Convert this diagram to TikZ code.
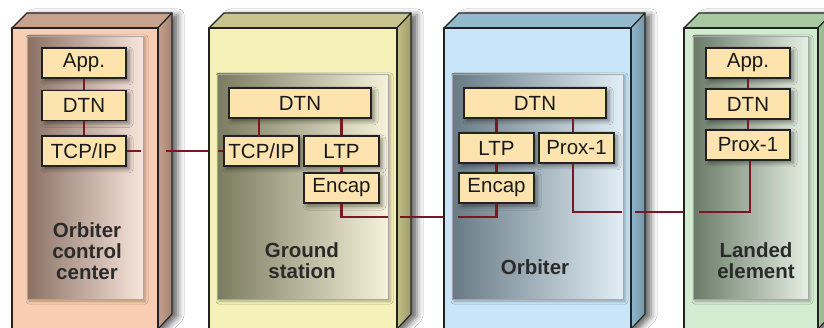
\documentclass[tikz,border=0pt]{standalone}
\usepackage{fontspec}
\setmainfont{Liberation Sans}
\usetikzlibrary{shadows.blur}

\definecolor{wire}{HTML}{7B1624}
\definecolor{layerfill}{HTML}{FDE3AE}
\definecolor{edge}{HTML}{222222}
\definecolor{labeltext}{HTML}{2A2A2A}
% cabinet colours: front, top, side
\definecolor{occFront}{HTML}{F8CDB1}\definecolor{occTop}{HTML}{C9A28D}\definecolor{occSide}{HTML}{C7A08D}
\definecolor{gsFront}{HTML}{F5F1B8}\definecolor{gsTop}{HTML}{C8C48D}\definecolor{gsSide}{HTML}{C2BE84}
\definecolor{obFront}{HTML}{C8E6F7}\definecolor{obTop}{HTML}{93B9CC}\definecolor{obSide}{HTML}{8FB6CA}
\definecolor{leFront}{HTML}{D3EBD0}\definecolor{leTop}{HTML}{A9C9A2}\definecolor{leSide}{HTML}{A3C49B}
% inner panel gradients
\definecolor{occDark}{HTML}{8B7165}\definecolor{occLight}{HTML}{F7E5DB}
\definecolor{gsDark}{HTML}{7B7B60}\definecolor{gsLight}{HTML}{F5F2D9}
\definecolor{obDark}{HTML}{687A84}\definecolor{obLight}{HTML}{E1EEF6}
\definecolor{leDark}{HTML}{6A7A68}\definecolor{leLight}{HTML}{E5EFE3}

\tikzset{
  cabedge/.style={draw=edge, line width=1.1pt, line join=round},
  cabshadow/.style={blur shadow={shadow xshift=6pt, shadow yshift=-2pt,
      shadow blur radius=6pt, shadow opacity=60}},
  panel/.style={draw=black!35, line width=0.8pt,
      blur shadow={shadow xshift=2pt, shadow yshift=-2pt,
      shadow blur radius=3pt, shadow opacity=30}},
  layerbox/.style={draw=edge, fill=layerfill, line width=1.6pt,
      minimum height=30pt, inner sep=0pt, text=black!90,
      font=\fontsize{20.5}{22}\selectfont,
      blur shadow={shadow xshift=3pt, shadow yshift=-3pt,
      shadow blur radius=4pt, shadow opacity=45}},
  sitelabel/.style={align=center, text=labeltext,
      font=\bfseries\fontsize{20.5}{21}\selectfont},
  link/.style={draw=wire, line width=2.4pt},
}

% one 3-D cabinet: front left x, front right x, front, top and side colours
\newcommand\cabinet[5]{%
  \fill[cabshadow, white] (#1,28) -- ({#1+15},13) -- ({#2+14},13) -- ({#2+14},314)
      -- (#2,329) -- (#1,329) -- cycle;
  \filldraw[cabedge, fill=#4] (#1,28) -- ({#1+15},13) -- ({#2+14},13) -- (#2,28) -- cycle;
  \draw[cabedge, left color=#5, right color=#5!82!black]
      (#2,28) -- ({#2+14},13) -- ({#2+14},314) -- (#2,329) -- cycle;
  \filldraw[cabedge, fill=#3] (#1,28) rectangle (#2,334);
}

\begin{document}
\begin{tikzpicture}[x=1pt, y=-1pt]
\useasboundingbox (0,0) rectangle (824,328);
\fill[white] (0,0) rectangle (824,328);

% ---------- cabinets and inner panels ----------
\cabinet{12}{158}{occFront}{occTop}{occSide}
\cabinet{209}{397}{gsFront}{gsTop}{gsSide}
\cabinet{444}{631}{obFront}{obTop}{obSide}
\cabinet{684}{818}{leFront}{leTop}{leSide}
\draw[panel, left color=occDark, right color=occLight] (27,36) rectangle (143,299);
\draw[panel, left color=gsDark, right color=gsLight] (217,74) rectangle (388,299);
\draw[panel, left color=obDark, right color=obLight] (452,74) rectangle (623,299);
\draw[panel, left color=leDark, right color=leLight] (693,36) rectangle (808,299);

% ---------- protocol layers ----------
% Orbiter control center
\node[layerbox, minimum width=84pt] (occApp) at (84,63) {App.};
\node[layerbox, minimum width=84pt] (occDtn) at (84,105.5) {DTN};
\node[layerbox, minimum width=84pt] (occTcp) at (84,151) {TCP/IP};
% Ground station
\node[layerbox, minimum width=142pt] (gsDtn) at (300,103) {DTN};
\node[layerbox, minimum width=75pt] (gsTcp) at (261.5,151) {TCP/IP};
\node[layerbox, minimum width=75pt] (gsLtp) at (341.5,151) {LTP};
\node[layerbox, minimum width=75pt] (gsEnc) at (341.5,188) {Encap};
% Orbiter
\node[layerbox, minimum width=142pt] (obDtn) at (535,103) {DTN};
\node[layerbox, minimum width=75pt] (obLtp) at (496.5,148) {LTP};
\node[layerbox, minimum width=75pt] (obProx) at (576.5,148) {Prox-1};
\node[layerbox, minimum width=75pt] (obEnc) at (496.5,188) {Encap};
% Landed element
\node[layerbox, minimum width=84pt] (leApp) at (748,63) {App.};
\node[layerbox, minimum width=84pt] (leDtn) at (748,104) {DTN};
\node[layerbox, minimum width=84pt] (leProx) at (748,145) {Prox-1};

% ---------- site names ----------
\node[sitelabel] (occName) at (87,251) {Orbiter\\control\\center};
\node[sitelabel] (gsName) at (302,261) {Ground\\station};
\node[sitelabel] (obName) at (535,267) {Orbiter};
\node[sitelabel] (leName) at (756,261) {Landed\\element};

% ---------- wire end points at cabinet walls ----------
\coordinate (occPanelR) at (141,151);
\coordinate (occOut) at (166,151);
\coordinate (gsIn) at (208,151);
\coordinate (gsPanelL) at (218,151);
\coordinate (gsTurn) at (341.5,217);
\coordinate (gsPanelR) at (388,217);
\coordinate (gsOut) at (400,217);
\coordinate (obIn) at (443,217);
\coordinate (obPanelL) at (458,217);
\coordinate (obTurn) at (496.5,217);
\coordinate (obProxTop) at (573,118);
\coordinate (obProxTurn) at (573,212);
\coordinate (obPanelR) at (622,212);
\coordinate (obOut) at (635,212);
\coordinate (leIn) at (684,212);
\coordinate (lePanelL) at (699,212);
\coordinate (leTurn) at (750,212);

% ---------- links between layers and sites ----------
\draw[link] (occApp) -- (occDtn);
\draw[link] (occDtn) -- (occTcp);
\draw[link] (occTcp.east) -- (occPanelR);
\draw[link] (occOut) -- (gsIn);
\draw[link] (gsPanelL) -- (gsTcp.west);

\draw[link] (gsDtn.south -| gsTcp.north) ++(-2.5,0) -- ++(0,18);
\draw[link] (gsDtn.south -| gsLtp.north) -- (gsLtp.north);
\draw[link] (gsLtp) -- (gsEnc);
\draw[link] (gsEnc.south) -- (gsTurn) -- (gsPanelR);
\draw[link] (gsOut) -- (obIn);
\draw[link] (obPanelL) -- (obTurn) -- (obEnc.south);

\draw[link] (obDtn.south -| obLtp.north) -- (obLtp.north);
\draw[link] (obLtp) -- (obEnc);
\draw[link] (obProxTop) -- (obProxTop |- obProx.north);
\draw[link] (obProxTop |- obProx.south) -- (obProxTurn) -- (obPanelR);
\draw[link] (obOut) -- (leIn);
\draw[link] (lePanelL) -- (leTurn) -- (leTurn |- leProx.south);

\draw[link] (leApp) -- (leDtn);
\draw[link] (leDtn) -- (leProx);
\end{tikzpicture}
\end{document}
